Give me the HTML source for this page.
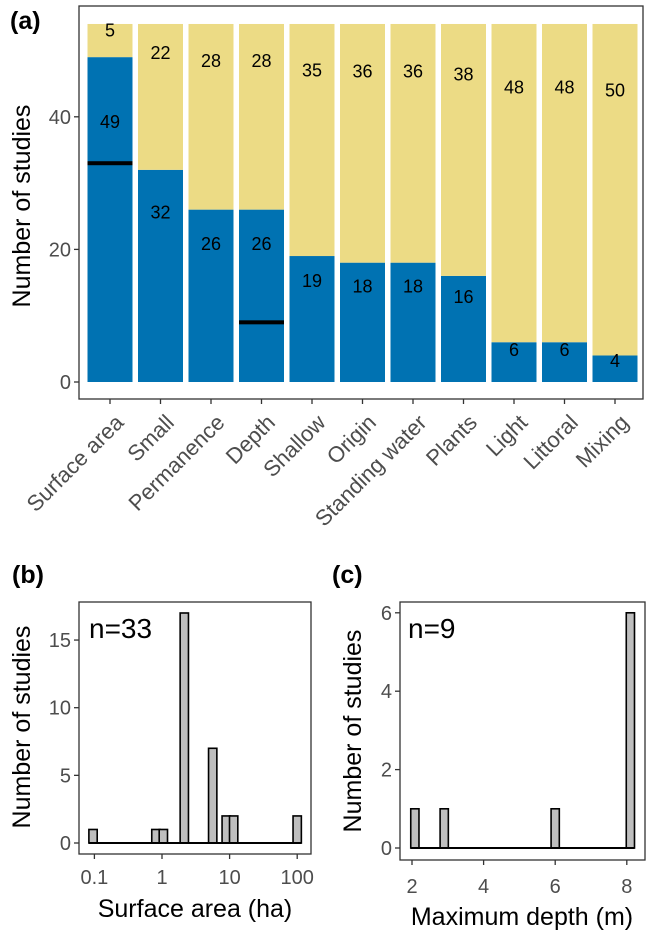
<!DOCTYPE html>
<html><head><meta charset="utf-8"><style>
body{margin:0;background:#fff}
svg{display:block;font-family:"Liberation Sans",Arial,sans-serif}
</style></head><body>
<svg id="fig" width="649" height="934" viewBox="0 0 649 934"></svg>
<script>
// Panel (a) data
const categories=["Surface area","Small","Permanence","Depth","Shallow","Origin","Standing water","Plants","Light","Littoral","Mixing"];
const blueValues=[49,32,26,26,19,18,18,16,6,6,4];
const yellowValues=[5,22,28,28,35,36,36,38,48,48,50];
const markerValues=[33,null,null,9,null,null,null,null,null,null,null];
const aTicks=[0,20,40];
// Panel (b) data (log10 bin centers)
const bBinsLog=[-1.02,-0.09,0.02,0.33,0.75,0.95,1.06,2.0];
const bCounts=[1,1,1,17,7,2,2,2];
const bTicksLog=[-1,0,1,2];
const bTickLabels=["0.1","1","10","100"];
const bYTicks=[0,5,10,15];
// Panel (c) data
const cBins=[2.08,2.9,6.0,8.1];
const cCounts=[1,1,1,6];
const cXTicks=[2,4,6,8];
const cYTicks=[0,2,4,6];

const NS="http://www.w3.org/2000/svg";
const svg=document.getElementById('fig');
function mk(tag,attrs,parent,text){const e=document.createElementNS(NS,tag);for(const k in attrs)e.setAttribute(k,attrs[k]);if(text!==undefined)e.textContent=text;(parent||svg).appendChild(e);return e;}
const TF=20;

// ---------- Panel a ----------
const ga=mk('g',{});


const aL=79,aR=643,aT=6,aB=399;
const ay=v=>382-v*6.63;
const ax=i=>110+i*50.5;
const bw=45;
categories.forEach((c,i)=>{
  const b=blueValues[i],y=yellowValues[i],x=ax(i)-bw/2;
  const r1=mk('rect',{x:x,y:ay(b),width:bw,height:ay(0)-ay(b),fill:'#0072B2'},ga);
  
  
  const r2=mk('rect',{x:x,y:ay(b+y),width:bw,height:ay(b)-ay(b+y),fill:'#ECDB85'},ga);
  
  
  const t1=mk('text',{x:ax(i),y:ay(b*0.8)+6,'font-size':18,'text-anchor':'middle',fill:'#000'},ga,String(b));
  
  
  const t2=mk('text',{x:ax(i),y:ay(b+y*0.8)+6,'font-size':18,'text-anchor':'middle',fill:'#000'},ga,String(y));
  
  
  if(markerValues[i]!==null){
    const m=mk('rect',{x:x,y:ay(markerValues[i])-2,width:bw,height:4,fill:'#000'},ga);
    
    
  }
  mk('line',{x1:ax(i),x2:ax(i),y1:aB,y2:aB+5,stroke:'#333','stroke-width':1.3},ga);
  const tx=ax(i)+4,ty=aB+14;
  const tl=mk('text',{x:tx,y:ty,'font-size':22,fill:'#4d4d4d','text-anchor':'end',dy:'0.7em',transform:`rotate(-45 ${tx} ${ty})`},ga,c);
  
  
});
mk('rect',{x:aL,y:aT,width:aR-aL,height:aB-aT,fill:'none',stroke:'#333','stroke-width':1.3},ga);
aTicks.forEach(t=>{
  mk('line',{x1:aL-5,x2:aL,y1:ay(t),y2:ay(t),stroke:'#333','stroke-width':1.3},ga);
  const tt=mk('text',{x:aL-8,y:ay(t)+7,'font-size':TF,fill:'#4d4d4d','text-anchor':'end'},ga,String(t));
  
  
});
const ya=mk('text',{x:0,y:0,'font-size':25,'text-anchor':'middle',transform:'translate(30 206) rotate(-90)'},ga,'Number of studies');


const la=mk('text',{x:10,y:29,'font-size':25,'font-weight':'bold'},ga,'(a)');



// ---------- Panel b ----------
const gb=mk('g',{});


const bL=79,bR=311,bT=602,bB=854;
const byy=v=>843-v*13.53;
const bx=l=>162+l*67.6;
const bBW=0.123;
bBinsLog.forEach((l,i)=>{
  const r=mk('rect',{x:bx(l-bBW/2),y:byy(bCounts[i]),width:bx(l+bBW/2)-bx(l-bBW/2),height:byy(0)-byy(bCounts[i]),fill:'#bebebe',stroke:'#000','stroke-width':1.6},gb);
  
  
});
mk('line',{x1:bx(bBinsLog[0]-bBW/2),x2:bx(bBinsLog[bBinsLog.length-1]+bBW/2),y1:byy(0),y2:byy(0),stroke:'#000','stroke-width':2},gb);
mk('rect',{x:bL,y:bT,width:bR-bL,height:bB-bT,fill:'none',stroke:'#333','stroke-width':1.3},gb);
bYTicks.forEach(t=>{
  mk('line',{x1:bL-5,x2:bL,y1:byy(t),y2:byy(t),stroke:'#333','stroke-width':1.3},gb);
  const tt=mk('text',{x:bL-8,y:byy(t)+7,'font-size':TF,fill:'#4d4d4d','text-anchor':'end'},gb,String(t));
  
  
});
bTicksLog.forEach((l,i)=>{
  mk('line',{x1:bx(l),x2:bx(l),y1:bB,y2:bB+5,stroke:'#333','stroke-width':1.3},gb);
  const tt=mk('text',{x:bx(l),y:884,'font-size':TF,fill:'#4d4d4d','text-anchor':'middle'},gb,bTickLabels[i]);
  
  
});
const xb=mk('text',{x:195,y:917,'font-size':25,'text-anchor':'middle'},gb,'Surface area (ha)');


const yb=mk('text',{x:0,y:0,'font-size':25,'text-anchor':'middle',transform:'translate(30 727) rotate(-90)'},gb,'Number of studies');


const nb=mk('text',{x:89,y:638,'font-size':28},gb,'n=33');


const lb=mk('text',{x:12,y:583,'font-size':25,'font-weight':'bold'},gb,'(b)');



// ---------- Panel c ----------
const gc=mk('g',{});


const cL=400,cR=645,cT=602,cB=860;
const cy=v=>848-v*39.2;
const cx=v=>412+(v-2)*35.8;
const cBW=0.23;
cBins.forEach((v,i)=>{
  const r=mk('rect',{x:cx(v-cBW/2),y:cy(cCounts[i]),width:cx(v+cBW/2)-cx(v-cBW/2),height:cy(0)-cy(cCounts[i]),fill:'#bebebe',stroke:'#000','stroke-width':1.6},gc);
  
  
});
mk('line',{x1:cx(cBins[0]-cBW/2),x2:cx(cBins[cBins.length-1]+cBW/2),y1:cy(0),y2:cy(0),stroke:'#000','stroke-width':2},gc);
mk('rect',{x:cL,y:cT,width:cR-cL,height:cB-cT,fill:'none',stroke:'#333','stroke-width':1.3},gc);
cYTicks.forEach(t=>{
  mk('line',{x1:cL-5,x2:cL,y1:cy(t),y2:cy(t),stroke:'#333','stroke-width':1.3},gc);
  const tt=mk('text',{x:cL-8,y:cy(t)+7,'font-size':TF,fill:'#4d4d4d','text-anchor':'end'},gc,String(t));
  
  
});
cXTicks.forEach(t=>{
  mk('line',{x1:cx(t),x2:cx(t),y1:cB,y2:cB+5,stroke:'#333','stroke-width':1.3},gc);
  const tt=mk('text',{x:cx(t),y:893,'font-size':TF,fill:'#4d4d4d','text-anchor':'middle'},gc,String(t));
  
  
});
const xc=mk('text',{x:522,y:925,'font-size':25,'text-anchor':'middle'},gc,'Maximum depth (m)');


const yc=mk('text',{x:0,y:0,'font-size':25,'text-anchor':'middle',transform:'translate(361 731) rotate(-90)'},gc,'Number of studies');


const nc=mk('text',{x:408,y:638,'font-size':28},gc,'n=9');


const lc=mk('text',{x:332,y:583,'font-size':25,'font-weight':'bold'},gc,'(c)');


</script>
</body></html>
